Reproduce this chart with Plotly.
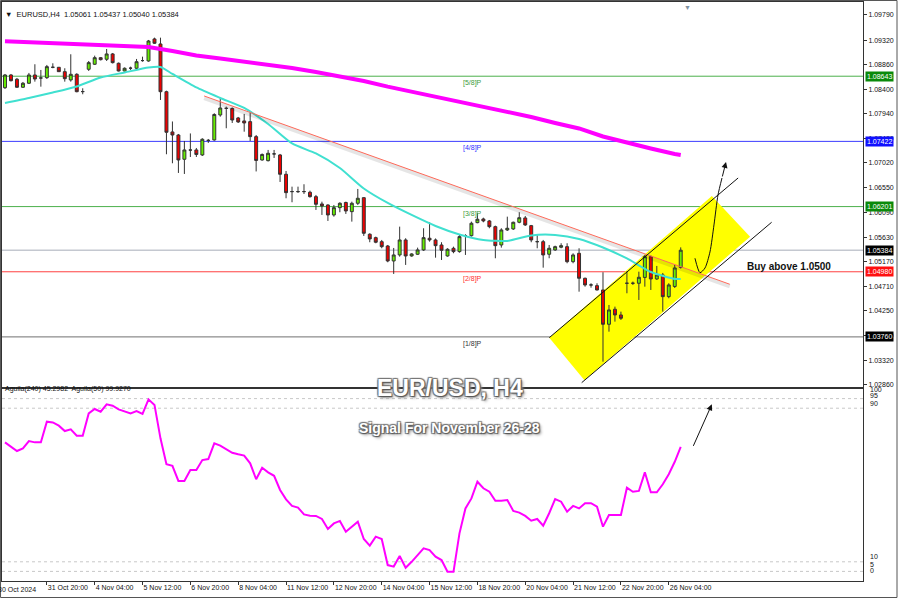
import plotly.graph_objects as go

# ---------------- data (EURUSD H4) ----------------
opens = [1.08428, 1.08666, 1.08586, 1.08436, 1.08511, 1.08666, 1.0861, 1.08616, 1.0881, 1.0881,
         1.08728, 1.08573, 1.08679, 1.08355, 1.08773, 1.08867, 1.0899, 1.0896, 1.0906, 1.08885,
         1.08741, 1.08793, 1.08792, 1.08936, 1.08928, 1.09341, 1.09247, 1.08353, 1.07599, 1.07542,
         1.07087, 1.0726, 1.07262, 1.07168, 1.07441, 1.07449, 1.07917, 1.08041, 1.08039, 1.07861,
         1.07805, 1.07792, 1.07511, 1.07074, 1.07061, 1.07188, 1.07168, 1.06806, 1.06482, 1.06482,
         1.06482, 1.06469, 1.06387, 1.0625, 1.06231, 1.06044, 1.06181, 1.06278, 1.06106, 1.06263,
         1.06368, 1.05683, 1.05619, 1.05544, 1.05463, 1.05182, 1.05295, 1.05576, 1.05276, 1.05308,
         1.05389, 1.05608, 1.05576, 1.05482, 1.05276, 1.0542, 1.05357, 1.05656, 1.05656, 1.059,
         1.05969, 1.05932, 1.05825, 1.05482, 1.05763, 1.05782, 1.05907, 1.05988, 1.05844, 1.05544,
         1.05544, 1.05308, 1.05389, 1.05439, 1.0545, 1.05169, 1.05326, 1.04858, 1.04733, 1.0472,
         1.04639, 1.03997, 1.04278, 1.04171, 1.04765, 1.04765, 1.04765, 1.04874, 1.05263, 1.04845,
         1.0492, 1.04514, 1.04705, 1.05061]
highs = [1.08685, 1.08685, 1.0861, 1.08535, 1.08704, 1.08867, 1.0876, 1.08854, 1.08885, 1.08816,
         1.08792, 1.09054, 1.08698, 1.08417, 1.08928, 1.09028, 1.09003, 1.09153, 1.09078, 1.089,
         1.08807, 1.08822, 1.08966, 1.09009, 1.09322, 1.09365, 1.09365, 1.08372, 1.07795, 1.07561,
         1.0743, 1.07571, 1.07299, 1.07481, 1.07467, 1.07949, 1.0823, 1.08073, 1.08058, 1.0788,
         1.07936, 1.07964, 1.07542, 1.07196, 1.07262, 1.07262, 1.07187, 1.06868, 1.06574, 1.06574,
         1.06619, 1.06499, 1.06419, 1.06293, 1.06244, 1.06231, 1.06282, 1.06293, 1.06293, 1.06531,
         1.06375, 1.05701, 1.05638, 1.05576, 1.05482, 1.05426, 1.05825, 1.05608, 1.05326, 1.05432,
         1.05795, 1.05907, 1.05604, 1.05533, 1.0542, 1.0545, 1.05669, 1.05683, 1.05919, 1.06076,
         1.05993, 1.0595, 1.05844, 1.05795, 1.06012, 1.05919, 1.06095, 1.06025, 1.05857, 1.05669,
         1.05576, 1.05482, 1.05469, 1.05514, 1.05514, 1.05326, 1.0542, 1.0487, 1.04765, 1.04765,
         1.04971, 1.04358, 1.04327, 1.04233, 1.04986, 1.04796, 1.04982, 1.05295, 1.05285, 1.05089,
         1.04958, 1.04765, 1.05108, 1.05437]
lows = [1.08404, 1.08545, 1.08423, 1.08423, 1.08498, 1.08541, 1.08447, 1.08591, 1.08792, 1.08722,
        1.08541, 1.08541, 1.08342, 1.08305, 1.08741, 1.08854, 1.08938, 1.08928, 1.08882, 1.08732,
        1.08732, 1.0876, 1.08773, 1.08915, 1.08915, 1.09247, 1.08198, 1.07181, 1.07012, 1.06831,
        1.06812, 1.0713, 1.0713, 1.07149, 1.07393, 1.07436, 1.07885, 1.07668, 1.07767, 1.07767,
        1.07604, 1.0743, 1.06859, 1.07061, 1.07046, 1.07112, 1.06662, 1.06357, 1.06282, 1.06456,
        1.06437, 1.06368, 1.06138, 1.06044, 1.05932, 1.06012, 1.06095, 1.06063, 1.05919, 1.06231,
        1.05651, 1.05533, 1.05514, 1.0542, 1.05158, 1.04939, 1.05263, 1.05108, 1.05263, 1.05295,
        1.0537, 1.05544, 1.05244, 1.05201, 1.05263, 1.05327, 1.05338, 1.05295, 1.05638, 1.05889,
        1.05907, 1.05795, 1.05233, 1.05432, 1.05744, 1.05763, 1.05889, 1.05838, 1.05533, 1.0542,
        1.05057, 1.05233, 1.0537, 1.0542, 1.05139, 1.05139, 1.04607, 1.04701, 1.04682, 1.0463,
        1.03296, 1.03858, 1.04046, 1.04077, 1.04577, 1.04733, 1.04452, 1.04701, 1.04639, 1.04827,
        1.04233, 1.04484, 1.04676, 1.0504]
closes = [1.08666, 1.08559, 1.08436, 1.08511, 1.08666, 1.08591, 1.0861, 1.08822, 1.0881, 1.08728,
          1.08597, 1.08679, 1.08353, 1.08355, 1.08897, 1.0899, 1.08953, 1.0906, 1.08897, 1.08741,
          1.08792, 1.08793, 1.08915, 1.08936, 1.09303, 1.0926, 1.08353, 1.07593, 1.07542, 1.07074,
          1.07262, 1.0726, 1.07177, 1.07462, 1.07441, 1.07926, 1.08048, 1.08041, 1.07823, 1.07786,
          1.07767, 1.07511, 1.07065, 1.07177, 1.072, 1.07188, 1.06806, 1.06462, 1.06482, 1.06482,
          1.06482, 1.06387, 1.06244, 1.06213, 1.06044, 1.06181, 1.06263, 1.06119, 1.06263, 1.06357,
          1.05701, 1.05595, 1.05533, 1.0545, 1.05182, 1.05295, 1.05576, 1.05276, 1.05314, 1.05389,
          1.05619, 1.05576, 1.05469, 1.05383, 1.05402, 1.05357, 1.05638, 1.05656, 1.05889, 1.05964,
          1.05932, 1.05825, 1.05469, 1.05763, 1.05795, 1.05907, 1.05993, 1.05857, 1.05576, 1.05544,
          1.05295, 1.0542, 1.0545, 1.05469, 1.05169, 1.05295, 1.04858, 1.04733, 1.04733, 1.04639,
          1.03997, 1.04265, 1.04171, 1.04109, 1.04765, 1.04765, 1.04877, 1.05263, 1.04845, 1.0492,
          1.04514, 1.04733, 1.05051, 1.05384]

# slow moving average (magenta) sampled at bar indices
ma_slow_bars = [0, 4, 8, 12, 16, 20, 24, 28, 32, 36, 40, 44, 48, 52, 56, 60, 64, 68, 72, 76,
                80, 84, 88, 92, 96, 100, 104, 108, 112, 113]
ma_slow = [1.09299, 1.09284, 1.09266, 1.09247, 1.09223, 1.09206, 1.09191, 1.09116, 1.09031, 1.08975,
           1.08919, 1.08863, 1.08797, 1.08722, 1.08638, 1.08554, 1.08447, 1.08353, 1.08254, 1.08161,
           1.08067, 1.07983, 1.0788, 1.07767, 1.07664, 1.07514, 1.07398, 1.0729, 1.07187, 1.07168]
# fast moving average (turquoise)
ma_fast_bars = [0, 4, 8, 12, 16, 20, 24, 26, 28, 32, 36, 40, 44, 48, 52, 56, 60, 64, 68, 72,
                76, 80, 84, 88, 92, 96, 100, 104, 108, 112, 113]
ma_fast = [1.08142, 1.08235, 1.08338, 1.08451, 1.08619, 1.08713, 1.08807, 1.08816, 1.08685, 1.08432,
           1.08235, 1.08048, 1.07748, 1.07383, 1.07196, 1.06924, 1.0654, 1.06269, 1.06044, 1.05838,
           1.05679, 1.05576, 1.05557, 1.0566, 1.05669, 1.05595, 1.05435, 1.05229, 1.04976, 1.04845,
           1.04845]

# Aguila oscillator (lower panel)
aguila = [72.2, 70, 67.7, 69.1, 72.9, 72.2, 72.2, 83, 82.6, 80.9,
          78.1, 79, 75.7, 75.7, 87.3, 89.6, 88.2, 92, 91.3, 89.4,
          88.2, 87.3, 88.5, 87, 94.6, 91.7, 74.3, 60.8, 60, 52.1,
          52.1, 57.8, 57.8, 63, 63.5, 71.7, 70.5, 68.8, 66.8, 66,
          65.3, 61.3, 53, 59, 56.6, 54.8, 47.4, 42.5, 39.1, 38.2,
          34.7, 34, 33.9, 32.3, 27.1, 30, 31.3, 25.7, 28.3, 30.9,
          21.9, 18.4, 23.1, 21.9, 8.3, 7.5, 13, 6.9, 10, 13.5,
          17, 16.1, 12.7, 10.9, 4.8, 4.8, 24.8, 37.8, 43, 51.7,
          48.3, 46.5, 41.8, 41.8, 42.2, 36.5, 35.6, 33.9, 31.4, 32.3,
          28.8, 35.3, 42.7, 41.3, 36.1, 39.1, 37.8, 40.5, 40.5, 38.7,
          28.3, 34.4, 34.4, 34.4, 48.6, 46.5, 46.9, 56.6, 46.2, 46.2,
          50.4, 55.6, 62.1, 69.9]
aguila_levels = [95, 90, 10, 5]

# Murrey math levels
level_values = [1.08643, 1.07422, 1.06201, 1.04980, 1.03760]
level_names = ['[5/8]P', '[4/8]P', '[3/8]P', '[2/8]P', '[1/8]P']
level_line_colors = ['#4cb04c', '#3c3cff', '#4cb04c', '#ff4040', '#707070']
level_text_colors = ['#3c9c3c', '#3030ff', '#3c9c3c', '#ff3030', '#333333']
level_box_colors = ['#0a8a0a', '#1010ff', '#0a8a0a', '#ff1010', '#000000']
current_price = 1.05384

price_ticks = [1.09790, 1.09320, 1.08860, 1.08400, 1.07940, 1.07480, 1.07020, 1.06550,
               1.06090, 1.05630, 1.05170, 1.04710, 1.04250, 1.03790, 1.03320, 1.02860]
time_tick_bars = [-1, 7, 15, 23, 31, 39, 47, 55, 63, 71, 79, 87, 95, 103, 111]
time_tick_text = ['30 Oct 2024', '31 Oct 20:00', '4 Nov 04:00', '5 Nov 12:00', '6 Nov 20:00',
                  '8 Nov 04:00', '11 Nov 12:00', '12 Nov 20:00', '14 Nov 04:00', '15 Nov 12:00',
                  '18 Nov 20:00', '20 Nov 04:00', '21 Nov 12:00', '22 Nov 20:00', '26 Nov 04:00']

# analyst drawings (bar index, price)
trend_bars = [33.3, 121.2]
trend_prices = [1.08273, 1.04746]
channel_fill_bars = [91.02, 118.2, 124.6, 96.9]
channel_fill_prices = [1.03746, 1.0640, 1.05638, 1.0295]
channel_up_bars = [91.02, 122.6]
channel_up_prices = [1.03746, 1.06737]
channel_lo_bars = [96.44, 128.2]
channel_lo_prices = [1.02903, 1.05907]
path_bars = [115.38, 116.22, 117.06, 117.89, 118.56, 119.23, 119.9]
path_prices = [1.05233, 1.04963, 1.05051, 1.05351, 1.05857, 1.06419, 1.06737]
path_tip = (120.57, 1.07037)
osc_arrow_tail = (115.0, 69.6)
osc_arrow_tip = (118.2, 92.0)

# ---------------- figure ----------------
FONT = 'Liberation Sans'
x_range = [-0.5, 143.48]
bars = list(range(len(opens)))

fig = go.Figure()

fig.add_trace(go.Scatter(x=ma_slow_bars, y=ma_slow, mode='lines',
                         line=dict(color='#ff00ff', width=4), hoverinfo='skip',
                         xaxis='x', yaxis='y'))
fig.add_trace(go.Scatter(x=ma_fast_bars, y=ma_fast, mode='lines',
                         line=dict(color='#40e0d0', width=2, shape='spline', smoothing=0.6),
                         hoverinfo='skip', xaxis='x', yaxis='y'))
fig.add_trace(go.Candlestick(x=bars, open=opens, high=highs, low=lows, close=closes,
                             increasing=dict(fillcolor='#66ee00', line=dict(color='#333333', width=1)),
                             decreasing=dict(fillcolor='#ee0000', line=dict(color='#333333', width=1)),
                             whiskerwidth=0, xaxis='x', yaxis='y'))
# trendline with soft shadow
fig.add_trace(go.Scatter(x=trend_bars, y=[p - 0.0004 for p in trend_prices], mode='lines',
                         line=dict(color='rgba(0,0,0,0.10)', width=4), hoverinfo='skip'))
fig.add_trace(go.Scatter(x=trend_bars, y=trend_prices, mode='lines',
                         line=dict(color='#ff6a5a', width=1), hoverinfo='skip'))
fig.add_trace(go.Scatter(x=channel_up_bars, y=channel_up_prices, mode='lines',
                         line=dict(color='#111111', width=1), hoverinfo='skip'))
fig.add_trace(go.Scatter(x=channel_lo_bars, y=channel_lo_prices, mode='lines',
                         line=dict(color='#111111', width=1), hoverinfo='skip'))
fig.add_trace(go.Scatter(x=path_bars, y=path_prices, mode='lines',
                         line=dict(color='#111111', width=1, shape='spline', smoothing=0.7),
                         hoverinfo='skip'))

fig.add_trace(go.Scatter(x=bars, y=aguila, mode='lines', line=dict(color='#ff00ff', width=2),
                         hoverinfo='skip', xaxis='x2', yaxis='y2'))

shapes = []
# yellow channel
path = 'M ' + ' L '.join(f'{b},{p}' for b, p in zip(channel_fill_bars, channel_fill_prices)) + ' Z'
shapes.append(dict(type='path', path=path, xref='x', yref='y', fillcolor='#ffff00',
                   line=dict(width=0), layer='below'))
for v, c in zip(level_values, level_line_colors):
    shapes.append(dict(type='line', xref='x domain', yref='y', x0=0, x1=1, y0=v, y1=v,
                       line=dict(color=c, width=1), layer='below'))
shapes.append(dict(type='line', xref='x domain', yref='y', x0=0, x1=1, y0=current_price,
                   y1=current_price, line=dict(color='#c4c8d0', width=1.5), layer='below'))
for v in aguila_levels:
    shapes.append(dict(type='line', xref='x2 domain', yref='y2', x0=0, x1=1, y0=v, y1=v,
                       line=dict(color='#c8c8c8', width=1, dash='dot'), layer='below'))
# outer frame
shapes.append(dict(type='rect', xref='paper', yref='paper', x0=-0.0017, x1=1.0395,
                   y0=-0.0285, y1=1.0026, line=dict(color='#555555', width=1)))

annotations = []
for v, n, tc, bc in zip(level_values, level_names, level_text_colors, level_box_colors):
    annotations.append(dict(x=78.1, y=v, xref='x', yref='y', text=n, showarrow=False,
                            yanchor='top', yshift=-1, font=dict(family=FONT, size=7, color=tc)))
    annotations.append(dict(x=1.0023, y=v, xref='paper', yref='y', text=f'{v:.5f}',
                            showarrow=False, xanchor='left', bgcolor=bc, borderpad=1,
                            font=dict(family=FONT, size=7, color='white')))
annotations.append(dict(x=1.0023, y=current_price, xref='paper', yref='y',
                        text=f'{current_price:.5f}', showarrow=False, xanchor='left',
                        bgcolor='#000000', borderpad=1, font=dict(family=FONT, size=7, color='white')))

annotations.append(dict(x=123.7, y=1.0507, xref='x', yref='y', text='<b>Buy above 1.0500</b>',
                        showarrow=False, xanchor='left',
                        font=dict(family=FONT, size=10, color='#111111')))
annotations.append(dict(x=path_tip[0], y=path_tip[1], xref='x', yref='y',
                        ax=path_bars[-1], ay=path_prices[-1], axref='x', ayref='y', text='',
                        showarrow=True, arrowhead=2, arrowsize=1.2, arrowwidth=1,
                        arrowcolor='#111111', standoff=0))
annotations.append(dict(x=osc_arrow_tip[0], y=osc_arrow_tip[1], xref='x2', yref='y2',
                        ax=osc_arrow_tail[0], ay=osc_arrow_tail[1], axref='x2', ayref='y2',
                        text='', showarrow=True, arrowhead=2, arrowsize=1.2, arrowwidth=1,
                        arrowcolor='#111111', standoff=0))

annotations.append(dict(x=0.001, y=0.9896, xref='paper', yref='paper', xanchor='left',
                        text='\u25bc  EURUSD,H4  1.05061 1.05437 1.05040 1.05384', showarrow=False,
                        font=dict(family=FONT, size=7.5, color='#111111')))
annotations.append(dict(x=0.7965, y=1.0, xref='paper', yref='paper', xanchor='center',
                        yanchor='top', text='\u25bc', showarrow=False,
                        font=dict(family=FONT, size=7, color='#8090a0')))
annotations.append(dict(x=0.001, y=0.3213, xref='paper', yref='paper', xanchor='left',
                        text='Aguila(240) 45.2982  Aguila(50) 99.9270', showarrow=False,
                        font=dict(family=FONT, size=7, color='#111111')))
annotations.append(dict(x=0.5203, y=0.3074, xref='paper', yref='paper',
                        text='<b>EUR/USD, H4</b>', showarrow=False,
                        font=dict(family=FONT, size=23, color='white',
                                  shadow='1px 1px 1px #555, -1px -1px 1px #777, 1px -1px 1px #777, -1px 1px 1px #777, 2px 2px 3px #999')))
annotations.append(dict(x=0.5203, y=0.247, xref='paper', yref='paper',
                        text='<b>Signal For November 26-28</b>', showarrow=False,
                        font=dict(family=FONT, size=14, color='white',
                                  shadow='1px 1px 1px #555, -1px -1px 1px #777, 1px -1px 1px #777, -1px 1px 1px #777, 2px 2px 3px #999')))
# oscillator scale labels
for txt, ypix in [('100', 395), ('95', 400.5), ('90', 409), ('10', 562), ('5', 570), ('0', 576)]:
    annotations.append(dict(x=1.0058, y=(581 - ypix) / 579, xref='paper', yref='paper',
                            xanchor='left', text=txt, showarrow=False,
                            font=dict(family=FONT, size=7, color='#111111')))
annotations.append(dict(x=-0.0075, y=-0.005, xref='paper', yref='paper', xanchor='left',
                        yanchor='top', text=time_tick_text[0], showarrow=False,
                        font=dict(family=FONT, size=7, color='#111111')))

fig.update_layout(
    width=900, height=600,
    margin=dict(l=2, r=37, t=2, b=19, autoexpand=False),
    paper_bgcolor='white', plot_bgcolor='white',
    showlegend=False,
    shapes=shapes, annotations=annotations,
    xaxis=dict(domain=[0, 1], range=x_range, anchor='y', showticklabels=False,
               showgrid=False, zeroline=False, showline=True, mirror=True, automargin=False,
               linecolor='#333333', linewidth=1, rangeslider=dict(visible=False), ticks=''),
    yaxis=dict(domain=[0.3351, 1], range=[1.02822, 1.10033], side='right', automargin=False,
               tickvals=price_ticks, ticktext=[f'{v:.5f}' for v in price_ticks],
               tickfont=dict(family=FONT, size=7, color='#111111'), ticks='outside',
               ticklen=3, tickcolor='#333333', showgrid=False, zeroline=False,
               showline=True, mirror=True, linecolor='#333333', linewidth=1),
    xaxis2=dict(domain=[0, 1], range=x_range, anchor='y2', matches='x', automargin=False,
                tickvals=time_tick_bars, ticktext=time_tick_text, tickangle=0,
                ticklabelposition='outside right',
                tickfont=dict(family=FONT, size=7, color='#111111'), ticks='outside',
                ticklen=3, tickcolor='#333333', showgrid=False, zeroline=False,
                showline=True, mirror=True, linecolor='#333333', linewidth=1),
    yaxis2=dict(domain=[0, 0.3316], range=[0, 100], side='right', showticklabels=False,
                automargin=False,
                ticks='', showgrid=False, zeroline=False, showline=True, mirror=True,
                linecolor='#333333', linewidth=1),
)

fig.write_html('out.html', config={'displayModeBar': False},
               post_script="document.body.style.margin='0';")
